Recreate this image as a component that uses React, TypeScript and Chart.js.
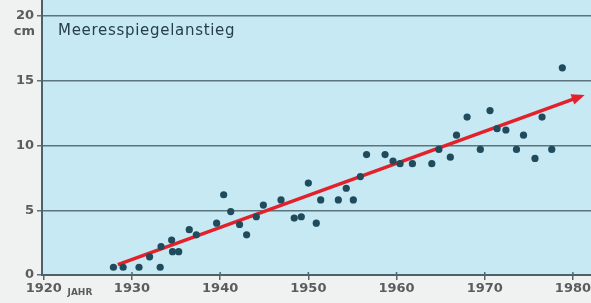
import React, { useEffect, useRef } from "react";
import { Chart, registerables } from "chart.js";

Chart.register(...registerables);

const TITLE = "Meeresspiegelanstieg";
const Y_UNIT = "cm";
const X_UNIT = "JAHR";

const YEARS = [
  1927.9, 1929.0, 1930.8, 1932.0, 1933.2, 1933.3, 1934.5, 1934.6, 1935.3, 1936.5,
  1937.3, 1939.6, 1940.4, 1941.2, 1942.2, 1943.0, 1944.1, 1944.9, 1946.9, 1948.4,
  1949.2, 1950.0, 1950.9, 1951.4, 1953.4, 1954.3, 1955.1, 1955.9, 1956.6, 1958.7,
  1959.6, 1960.4, 1961.8, 1964.0, 1964.8, 1966.1, 1966.8, 1968.0, 1969.5, 1970.6,
  1971.4, 1972.4, 1973.6, 1974.4, 1975.7, 1976.5, 1977.6, 1978.8,
];
const LEVELS_CM = [
  0.6, 0.6, 0.6, 1.4, 0.6, 2.2, 2.7, 1.8, 1.8, 3.5,
  3.1, 4.0, 6.2, 4.9, 3.9, 3.1, 4.5, 5.4, 5.8, 4.4,
  4.5, 7.1, 4.0, 5.8, 5.8, 6.7, 5.8, 7.6, 9.3, 9.3,
  8.8, 8.6, 8.6, 8.6, 9.7, 9.1, 10.8, 12.2, 9.7, 12.7,
  11.3, 11.2, 9.7, 10.8, 9.0, 12.2, 9.7, 16.0,
];

const TREND_YEARS = [1928.4, 1980.9];
const TREND_CM = [0.8, 13.8];

const X_TICKS = [1920, 1930, 1940, 1950, 1960, 1970, 1980];
const Y_TICKS = [0, 5, 10, 15, 20];

const X_MIN = 1919.8;
const X_MAX = 1982.05;
const Y_MIN = 0;
const Y_MAX = 21.24;

const FONT = "'DejaVu Sans', sans-serif";

const decorPlugin = {
  id: "decor",
  beforeDraw(chart: any) {
    const { ctx, chartArea } = chart;
    ctx.save();
    ctx.fillStyle = "#f0f1f1";
    ctx.fillRect(0, 0, chart.width, chart.height);
    ctx.fillStyle = "#c6e9f3";
    ctx.fillRect(chartArea.left, chartArea.top, chartArea.right - chartArea.left, chartArea.bottom - chartArea.top);
    ctx.restore();
  },
  afterDatasetsDraw(chart: any) {
    const { ctx, chartArea, scales } = chart;
    const meta = chart.getDatasetMeta(1);
    const pts = meta.data;
    if (pts && pts.length >= 2) {
      const a = pts[pts.length - 2];
      const b = pts[pts.length - 1];
      const dx = b.x - a.x;
      const dy = b.y - a.y;
      const len = Math.sqrt(dx * dx + dy * dy);
      const ux = dx / len;
      const uy = dy / len;
      const tipX = b.x + ux * 4;
      const tipY = b.y + uy * 4;
      const L = 13;
      const W = 5.5;
      const bx = tipX - ux * L;
      const by = tipY - uy * L;
      ctx.save();
      ctx.fillStyle = "#e3212b";
      ctx.beginPath();
      ctx.moveTo(tipX, tipY);
      ctx.lineTo(bx - uy * W, by + ux * W);
      ctx.lineTo(bx + uy * W, by - ux * W);
      ctx.closePath();
      ctx.fill();
      ctx.restore();
    }
    ctx.save();
    // small tick marks above the x axis (ticks cross the axis line)
    ctx.strokeStyle = "#55666c";
    ctx.lineWidth = 1.5;
    X_TICKS.forEach((v) => {
      if (v === X_TICKS[0]) return;
      const px = scales.x.getPixelForValue(v);
      ctx.beginPath();
      ctx.moveTo(px, chartArea.bottom);
      ctx.lineTo(px, chartArea.bottom - 3);
      ctx.stroke();
    });
    ctx.fillStyle = "#263d4b";
    ctx.font = `15px ${FONT}`;
    ctx.textBaseline = "middle";
    ctx.textAlign = "left";
    (ctx as any).letterSpacing = "0.7px";
    ctx.fillText(TITLE, chartArea.left + 16, 31);
    (ctx as any).letterSpacing = "0px";
    ctx.fillStyle = "#5c5c5c";
    ctx.font = `bold 13px ${FONT}`;
    ctx.textAlign = "right";
    ctx.fillText(Y_UNIT, chartArea.left - 7, scales.y.getPixelForValue(20) + 16);
    ctx.font = `bold 9px ${FONT}`;
    ctx.textAlign = "center";
    ctx.textBaseline = "alphabetic";
    ctx.fillText(X_UNIT, scales.x.getPixelForValue(1924.1), 295);
    ctx.restore();
  },
};

const zeroPad = (scale: any) => {
  scale.paddingTop = 0;
  scale.paddingBottom = 0;
  scale.paddingLeft = 0;
  scale.paddingRight = 0;
};

export default function App() {
  const ref = useRef<HTMLCanvasElement | null>(null);

  useEffect(() => {
    document.body.style.margin = "0";
    const canvas = ref.current;
    if (!canvas) return;
    const chart = new Chart(canvas, {
      type: "scatter",
      data: {
        datasets: [
          {
            type: "scatter",
            data: YEARS.map((x, i) => ({ x, y: LEVELS_CM[i] })),
            backgroundColor: "#1f4b5c",
            borderColor: "#1f4b5c",
            pointRadius: 3.6,
            pointHoverRadius: 3.6,
            borderWidth: 0,
          },
          {
            type: "line",
            data: TREND_YEARS.map((x, i) => ({ x, y: TREND_CM[i] })),
            borderColor: "#e3212b",
            borderWidth: 3.5,
            pointRadius: 0,
            fill: false,
            borderCapStyle: "butt",
          } as any,
        ],
      },
      options: {
        responsive: false,
        animation: false,
        layout: { padding: 0, autoPadding: false },
        plugins: {
          legend: { display: false },
          tooltip: { enabled: false },
          title: { display: false },
        },
        scales: {
          x: {
            type: "linear",
            min: X_MIN,
            max: X_MAX,
            afterBuildTicks: (scale: any) => {
              scale.ticks = X_TICKS.map((v) => ({ value: v }));
            },
            afterFit: (scale: any) => {
              scale.height = 28;
              zeroPad(scale);
            },
            grid: {
              drawOnChartArea: false,
              drawTicks: true,
              tickLength: 5,
              color: "#55666c",
              lineWidth: 1.5,
            },
            border: { display: true, color: "#4f6168", width: 2 },
            ticks: {
              color: "#5c5c5c",
              font: { family: FONT, size: 13, weight: "bold" },
              padding: 1,
              maxRotation: 0,
              autoSkip: false,
              callback: (v: any) => String(v),
            },
          },
          y: {
            type: "linear",
            min: Y_MIN,
            max: Y_MAX,
            afterBuildTicks: (scale: any) => {
              scale.ticks = Y_TICKS.map((v) => ({ value: v }));
            },
            afterFit: (scale: any) => {
              scale.width = 42;
              zeroPad(scale);
            },
            grid: {
              drawOnChartArea: true,
              drawTicks: true,
              tickLength: 5,
              color: "#5b757e",
              lineWidth: 1.5,
            },
            border: { display: true, color: "#4f6168", width: 2 },
            ticks: {
              color: "#5c5c5c",
              font: { family: FONT, size: 13, weight: "bold" },
              padding: 3,
              autoSkip: false,
              callback: (v: any) => String(v),
            },
          },
        },
      },
      plugins: [decorPlugin],
    } as any);
    return () => chart.destroy();
  }, []);

  return (
    <div style={{ position: "fixed", left: 0, top: 0, width: 591, height: 303 }}>
      <canvas ref={ref} width={591} height={303} style={{ display: "block", width: 591, height: 303 }} />
    </div>
  );
}
